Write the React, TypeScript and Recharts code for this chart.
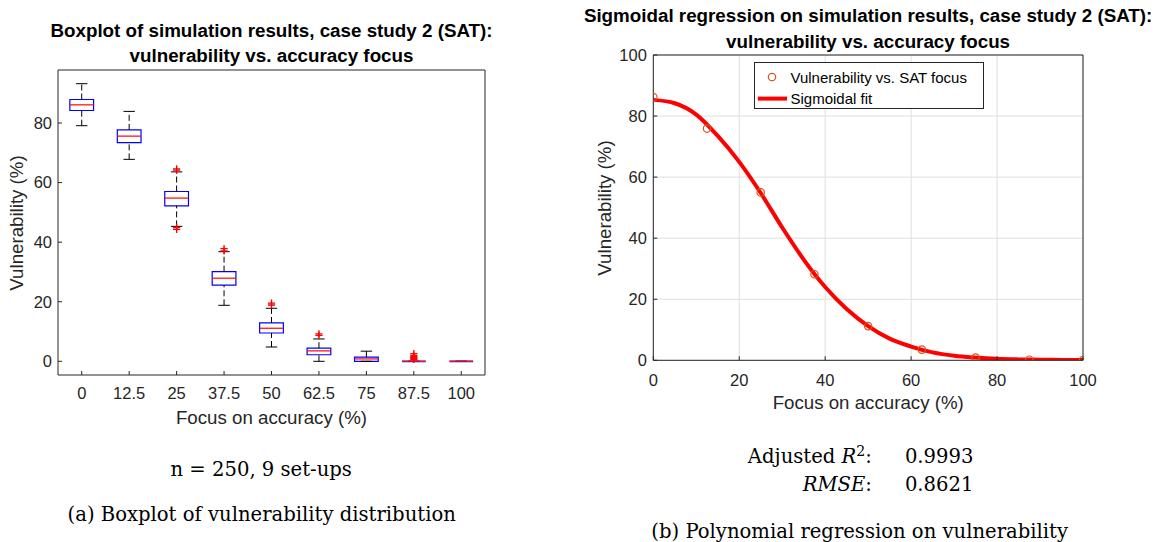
import React from 'react';
import {
  ComposedChart,
  XAxis,
  YAxis,
  Scatter,
  Line,
  CartesianGrid,
  ReferenceArea,
  ReferenceLine,
  Legend,
} from 'recharts';

// ---- (a) boxplot, one entry per set-up
const focusLabels = ['0', '12.5', '25', '37.5', '50', '62.5', '75', '87.5', '100'];
const whiskerLow = [79.1, 67.8, 45.3, 18.8, 4.8, 0, 0, 0, 0];
const boxQ1 = [84.2, 73.4, 52.2, 25.6, 9.5, 2.2, 0, 0, 0];
const boxMedian = [86.1, 75.6, 54.8, 27.9, 11.1, 3.5, 0.8, 0, 0];
const boxQ3 = [87.9, 77.7, 57.0, 30.1, 12.9, 4.4, 1.4, 0, 0];
const whiskerHigh = [93.2, 83.9, 63.6, 36.8, 17.8, 7.5, 3.4, 0, 0];
// outliers: set-up number (1-based) and value
const outlierSetup = [3, 3, 3, 3, 4, 4, 5, 5, 6, 6, 8, 8, 8, 8, 8, 8];
const outlierValue = [64.6, 64.2, 44.9, 44.3, 37.8, 37.1, 19.5, 18.9, 9.2, 8.7, 2.6, 2.0, 1.6, 1.2, 0.9, 0.6];
const boxTicksY = [0, 20, 40, 60, 80];

// ---- (b) sigmoidal regression
const focusPoints = [0, 12.5, 25, 37.5, 50, 62.5, 75, 87.5, 100];
const vulnerabilityMean = [86.2, 75.9, 55.0, 28.2, 11.2, 3.5, 0.9, 0.2, 0.1];
const fitFocus = [0, 5, 10, 15, 20, 25, 30, 35, 40, 45, 50, 55, 60, 65, 70, 75, 80, 85, 90, 95, 100];
const fitVulnerability = [85.3, 84.2, 80.5, 73.5, 65.0, 54.8, 43.5, 33.0, 24.0, 16.8, 11.2, 7.1, 4.5, 2.6, 1.5, 0.9, 0.5, 0.3, 0.2, 0.12, 0.08];
const fitTicks = [0, 20, 40, 60, 80, 100];

const SANS = '"Liberation Sans", Arial, Helvetica, sans-serif';
const SERIF = '"DejaVu Serif", serif';
const AXIS = '#262626';
const BOX_BLUE = '#0000ff';
const MED_RED = '#ff0000';
const OBS = '#D95319';
const FIT = '#ff0000';

const outlierRows = outlierSetup.map((s, i) => ({ pos: s, value: outlierValue[i] }));
const obsRows = focusPoints.map((x, i) => ({ x, y: vulnerabilityMean[i] }));
const fitRows = fitFocus.map((x, i) => ({ x, y: fitVulnerability[i] }));

const PlusMark = (p: any) => (
  <path
    d={`M${p.cx - 3.6},${p.cy}H${p.cx + 3.6}M${p.cx},${p.cy - 3.6}V${p.cy + 3.6}`}
    stroke={MED_RED}
    strokeWidth={1.3}
    fill="none"
  />
);

const Ring = (p: any) => (
  <circle cx={p.cx} cy={p.cy} r={3.7} fill="none" stroke={OBS} strokeWidth={1.2} />
);

const tickStyle = { fill: AXIS, fontSize: 16.5, fontFamily: SANS };

// axis sizes, margins below are reduced by these so the plot box lands where it should
const Y_W = 40;
const X_H = 30;
const EDGE = 4;

const FitLegend = () => (
  <div
    style={{
      position: 'relative',
      width: 230,
      height: 47,
      boxSizing: 'border-box',
      border: `1px solid ${AXIS}`,
      background: '#fff',
      fontFamily: SANS,
      fontSize: 15,
      color: '#000',
    }}
  >
    <svg width={230} height={47} style={{ position: 'absolute', left: -1, top: -1 }}>
      <circle cx={18} cy={15} r={3.7} fill="none" stroke={OBS} strokeWidth={1.2} />
      <line x1={3.8} x2={33} y1={36.6} y2={36.6} stroke={FIT} strokeWidth={4} />
    </svg>
    <span style={legendText(15)}>Vulnerability vs. SAT focus</span>
    <span style={legendText(36.6)}>Sigmoidal fit</span>
  </div>
);

function legendText(y: number): React.CSSProperties {
  return {
    position: 'absolute',
    left: 35.8,
    top: y - 1,
    transform: 'translateY(-50%)',
    lineHeight: 1,
    whiteSpace: 'nowrap',
  };
}

const at = (x: number, y: number, extra: React.CSSProperties = {}): React.CSSProperties => ({
  position: 'absolute',
  left: x,
  top: y,
  transform: 'translate(-50%, -50%)',
  whiteSpace: 'nowrap',
  lineHeight: 1,
  ...extra,
});

const titleStyle = { fontFamily: SANS, fontWeight: 700, fontSize: 18.8, color: '#000' };
const labelStyle = { fontFamily: SANS, fontSize: 18.7, color: AXIS };
const captionStyle = { fontFamily: SERIF, fontSize: 19.6, color: '#000' };

const BoxplotChart = () => (
  <ComposedChart
    width={560}
    height={440}
    margin={{ top: 70 - EDGE, right: 75 - EDGE, bottom: 65 - X_H, left: 58 - Y_W }}
  >
    <XAxis
      type="number"
      dataKey="pos"
      domain={[0.5, 9.5]}
      ticks={[1, 2, 3, 4, 5, 6, 7, 8, 9]}
      interval={0}
      tickFormatter={(v: number) => focusLabels[v - 1]}
      height={X_H}
      allowDataOverflow
      stroke={AXIS}
      tickSize={-4}
      tickMargin={16.4}
      tick={tickStyle}
    />
    <XAxis
      xAxisId="top"
      orientation="top"
      type="number"
      domain={[0.5, 9.5]}
      ticks={[1, 2, 3, 4, 5, 6, 7, 8, 9]}
      interval={0}
      height={EDGE}
      allowDataOverflow
      stroke={AXIS}
      tickSize={-4}
      tick={false}
    />
    <YAxis
      type="number"
      dataKey="value"
      domain={[-4.6, 97.8]}
      ticks={boxTicksY}
      interval={0}
      width={Y_W}
      allowDataOverflow
      stroke={AXIS}
      tickSize={-4}
      tickMargin={10}
      tick={tickStyle}
    />
    <YAxis
      yAxisId="right"
      orientation="right"
      type="number"
      domain={[-4.6, 97.8]}
      ticks={boxTicksY}
      interval={0}
      width={EDGE}
      allowDataOverflow
      stroke={AXIS}
      tickSize={-4}
      tick={false}
    />
    {focusLabels.map((_, i) => {
      const x = i + 1;
      const items: React.ReactNode[] = [];
      if (whiskerHigh[i] > boxQ3[i]) {
        items.push(
          <ReferenceLine key={`wu${i}`} segment={[{ x, y: boxQ3[i] }, { x, y: whiskerHigh[i] }]} stroke="#000" strokeDasharray="6 3" />,
        );
      }
      if (boxQ1[i] > whiskerLow[i]) {
        items.push(
          <ReferenceLine key={`wl${i}`} segment={[{ x, y: whiskerLow[i] }, { x, y: boxQ1[i] }]} stroke="#000" strokeDasharray="6 3" />,
        );
      }
      items.push(
        <ReferenceLine key={`cu${i}`} segment={[{ x: x - 0.12, y: whiskerHigh[i] }, { x: x + 0.12, y: whiskerHigh[i] }]} stroke="#000" />,
        <ReferenceLine key={`cl${i}`} segment={[{ x: x - 0.12, y: whiskerLow[i] }, { x: x + 0.12, y: whiskerLow[i] }]} stroke="#000" />,
      );
      if (boxQ3[i] > boxQ1[i]) {
        items.push(
          <ReferenceArea key={`b${i}`} x1={x - 0.25} x2={x + 0.25} y1={boxQ1[i]} y2={boxQ3[i]} stroke={BOX_BLUE} strokeWidth={1.2} fill="none" fillOpacity={0} />,
        );
      } else {
        items.push(
          <ReferenceLine key={`bz${i}`} segment={[{ x: x - 0.25, y: boxQ1[i] }, { x: x + 0.25, y: boxQ1[i] }]} stroke={BOX_BLUE} strokeWidth={2.5} strokeOpacity={0.45} />,
        );
      }
      items.push(
        <ReferenceLine key={`m${i}`} segment={[{ x: x - 0.25, y: boxMedian[i] }, { x: x + 0.25, y: boxMedian[i] }]} stroke={MED_RED} strokeWidth={1.2} />,
      );
      return items;
    })}
    <Scatter data={outlierRows} dataKey="value" shape={PlusMark} isAnimationActive={false} />
  </ComposedChart>
);

const RegressionChart = () => (
  <ComposedChart
    width={585}
    height={440}
    margin={{ top: 55 - EDGE, right: 72 - EDGE, bottom: 79.7 - X_H, left: 83.3 - Y_W }}
  >
    <CartesianGrid stroke="#dfdfdf" />
    <XAxis
      type="number"
      dataKey="x"
      domain={[0, 100]}
      ticks={fitTicks}
      interval={0}
      height={X_H}
      allowDataOverflow
      stroke={AXIS}
      tickSize={-4}
      tickMargin={17.8}
      tick={tickStyle}
    />
    <XAxis
      xAxisId="top"
      orientation="top"
      type="number"
      domain={[0, 100]}
      ticks={fitTicks}
      interval={0}
      height={EDGE}
      allowDataOverflow
      stroke={AXIS}
      tickSize={-4}
      tick={false}
    />
    <YAxis
      type="number"
      dataKey="y"
      domain={[0, 100]}
      ticks={fitTicks}
      interval={0}
      width={Y_W}
      allowDataOverflow
      stroke={AXIS}
      tickSize={-4}
      tickMargin={10.4}
      tick={tickStyle}
    />
    <YAxis
      yAxisId="right"
      orientation="right"
      type="number"
      domain={[0, 100]}
      ticks={fitTicks}
      interval={0}
      width={EDGE}
      allowDataOverflow
      stroke={AXIS}
      tickSize={-4}
      tick={false}
    />
    <Line
      data={fitRows}
      dataKey="y"
      type="monotone"
      stroke={FIT}
      strokeWidth={4}
      dot={false}
      isAnimationActive={false}
      name="Sigmoidal fit"
    />
    <Scatter data={obsRows} dataKey="y" shape={Ring} isAnimationActive={false} name="Vulnerability vs. SAT focus" />
    <Legend
      layout="horizontal"
      verticalAlign="middle"
      align="center"
      content={<FitLegend />}
      wrapperStyle={{ left: 183.7, top: 61.7, width: 230, height: 47 }}
    />
  </ComposedChart>
);

export default function App() {
  return (
    <div style={{ position: 'absolute', left: 0, top: 0, width: 1155, height: 542, background: '#fff', overflow: 'hidden' }}>
      {/* (a) boxplot */}
      <div style={{ position: 'absolute', left: 0, top: 0 }}>
        <BoxplotChart />
      </div>
      <div style={at(271.5, 31, titleStyle)}>Boxplot of simulation results, case study 2 (SAT):</div>
      <div style={at(271.5, 56, titleStyle)}>vulnerability vs. accuracy focus</div>
      <div style={at(17, 222.5, { ...labelStyle, transform: 'translate(-50%, -50%) rotate(-90deg)' })}>Vulnerability (%)</div>
      <div style={at(271.5, 418.3, labelStyle)}>Focus on accuracy (%)</div>
      <div style={at(261.2, 470, captionStyle)}>n = 250, 9 set-ups</div>
      <div style={at(261.7, 515, captionStyle)}>(a) Boxplot of vulnerability distribution</div>

      {/* (b) regression */}
      <div style={{ position: 'absolute', left: 570, top: 0 }}>
        <RegressionChart />
      </div>
      <div style={at(868.1, 16, titleStyle)}>Sigmoidal regression on simulation results, case study 2 (SAT):</div>
      <div style={at(868.1, 42, titleStyle)}>vulnerability vs. accuracy focus</div>
      <div style={at(605, 207.6, { ...labelStyle, transform: 'translate(-50%, -50%) rotate(-90deg)' })}>Vulnerability (%)</div>
      <div style={at(868.2, 403.3, labelStyle)}>Focus on accuracy (%)</div>
      <div style={{ ...captionStyle, position: 'absolute', right: 1155 - 871.9, top: 456.7, transform: 'translateY(-50%)', lineHeight: 1, whiteSpace: 'nowrap' }}>
        Adjusted <i>R</i>
        <sup style={{ fontSize: '0.72em', verticalAlign: 'baseline', position: 'relative', top: '-0.5em' }}>2</sup>:
      </div>
      <div style={{ ...captionStyle, position: 'absolute', left: 904.9, top: 456.7, transform: 'translateY(-50%)', lineHeight: 1 }}>0.9993</div>
      <div style={{ ...captionStyle, position: 'absolute', right: 1155 - 871.9, top: 485, transform: 'translateY(-50%)', lineHeight: 1, whiteSpace: 'nowrap' }}>
        <i>RMSE</i>:
      </div>
      <div style={{ ...captionStyle, position: 'absolute', left: 904.9, top: 485, transform: 'translateY(-50%)', lineHeight: 1 }}>0.8621</div>
      <div style={at(859.7, 531.7, captionStyle)}>(b) Polynomial regression on vulnerability</div>
    </div>
  );
}
